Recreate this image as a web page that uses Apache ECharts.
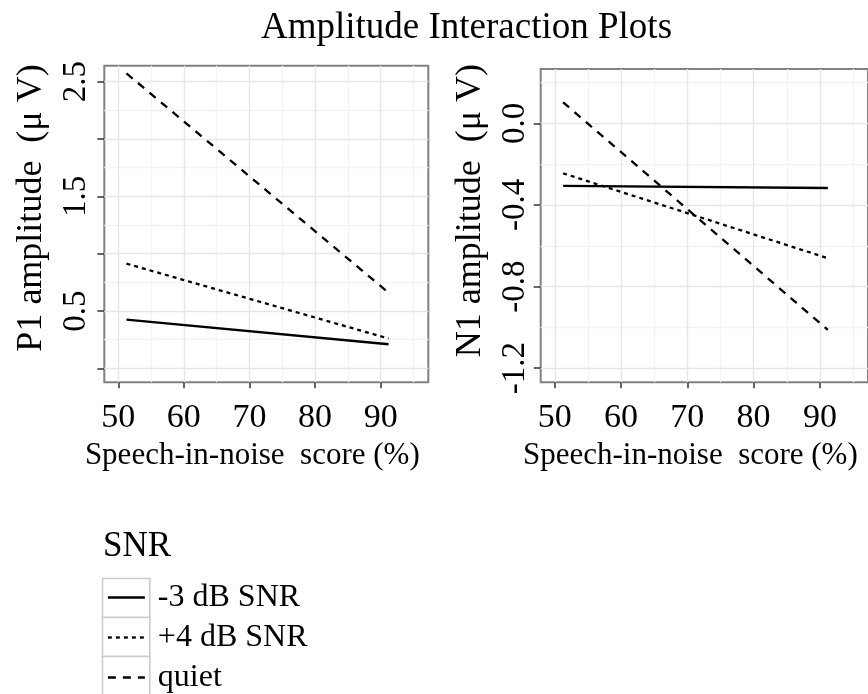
<!DOCTYPE html>
<html>
<head>
<meta charset="utf-8">
<script src="https://cdn.jsdelivr.net/npm/echarts@6/dist/echarts.min.js"></script>
<style>html,body{margin:0;padding:0;background:#fff}#c{width:868px;height:694px}</style>
</head>
<body>
<div id="c"></div>
<script>
// ---- data ----
const snrLevels = ['-3 dB SNR', '+4 dB SNR', 'quiet'];
const scoreRange = [51.25, 91.2];            // speech-in-noise score (%) at line ends
const p1Minus3 = [0.425, 0.21];
const p1Plus4 = [0.913, 0.26];
const p1Quiet = [2.573, 0.66];
const n1Minus3 = [-0.307, -0.317];
const n1Plus4 = [-0.245, -0.661];
const n1Quiet = [0.103, -1.012];
const xTicks = [50, 60, 70, 80, 90];
const xMinor = [55, 65, 75, 85, 95];
const p1Ticks = [0, 0.5, 1.0, 1.5, 2.0, 2.5];
const p1Labels = [0.5, 1.5, 2.5];
const p1Minor = [0.25, 0.75, 1.25, 1.75, 2.25];
const n1Ticks = [-1.2, -0.8, -0.4, 0.0];
const n1Minor = [-1.0, -0.6, -0.2, 0.2];

// ---- styles ----
const FONT = 'Liberation Serif';
const dashes = {'-3 dB SNR': 'solid', '+4 dB SNR': [4, 4], 'quiet': [8, 7]};
const majorColor = '#e6e6e6', minorColor = '#f3f3f3';

function pairs(ys) { return ys.map((y, i) => [scoreRange[i], y]); }

function gridLines(xs, ys, color) {
  const out = [];
  xs.forEach(v => out.push({xAxis: v, lineStyle: {color: color, width: 1.4, type: 'solid'}}));
  ys.forEach(v => out.push({yAxis: v, lineStyle: {color: color, width: 1.4, type: 'solid'}}));
  return out;
}

function makeSeries(panel, values, withGrid) {
  return snrLevels.map((name, k) => {
    const s = {
      type: 'line', name: name,
      xAxisIndex: panel, yAxisIndex: panel,
      data: pairs(values[k]),
      symbol: 'none', z: 3,
      lineStyle: {color: '#000', width: 2.3, type: dashes[name]},
      itemStyle: {color: '#000'}
    };
    if (k === 0) {
      s.markLine = {
        silent: true, symbol: ['none', 'none'], z: 1, animation: false,
        label: {show: false},
        data: gridLines(xMinor, withGrid.minor, minorColor).concat(gridLines(xTicks, withGrid.major, majorColor))
      };
    }
    return s;
  });
}

function xAxisCfg(grid) {
  return {
    type: 'value', gridIndex: grid, min: 47.87, max: 97.26,
    axisLine: {show: false, onZero: false},
    splitLine: {show: false},
    axisTick: {show: true, length: 6, customValues: xTicks, lineStyle: {color: '#333', width: 1.5}},
    axisLabel: {customValues: xTicks, margin: 19, fontFamily: FONT, fontSize: 34, color: '#000'},
    name: 'Speech-in-noise  score (%)', nameLocation: 'middle', nameGap: 58,
    nameTextStyle: {fontFamily: FONT, fontSize: 31, color: '#000', padding: [0, 28, 0, 0]}
  };
}

const option = {
  animation: false,
  backgroundColor: '#fff',
  title: [
    {text: 'Amplitude Interaction Plots', left: 256, top: 5,
     textStyle: {fontFamily: FONT, fontSize: 37, fontWeight: 'normal', color: '#000'}},
    {text: 'SNR', left: 98, top: 524,
     textStyle: {fontFamily: FONT, fontSize: 35, fontWeight: 'normal', color: '#000'}}
  ],
  grid: [
    {left: 104.3, top: 65.7, width: 324, height: 316.6, show: true,
     borderColor: '#808080', borderWidth: 2, backgroundColor: '#fff'},
    {left: 540.7, top: 69, width: 329.3, height: 313.3, show: true,
     borderColor: '#808080', borderWidth: 2, backgroundColor: '#fff'}
  ],
  xAxis: [xAxisCfg(0), xAxisCfg(1)],
  yAxis: [
    {type: 'value', gridIndex: 0, min: -0.122, max: 2.64,
     axisLine: {show: false, onZero: false}, splitLine: {show: false},
     axisTick: {show: true, length: 7, customValues: p1Ticks, lineStyle: {color: '#333', width: 1.5}},
     axisLabel: {customValues: p1Labels, rotate: 90, margin: 11, fontFamily: FONT, fontSize: 33, color: '#000',
                 formatter: v => v.toFixed(1)},
     name: 'P1 amplitude  (μ V)', nameLocation: 'middle', nameGap: 55,
     nameTextStyle: {fontFamily: FONT, fontSize: 36, color: '#000', padding: [0, 0, 0, 32]}},
    {type: 'value', gridIndex: 1, min: -1.269, max: 0.266,
     axisLine: {show: false, onZero: false}, splitLine: {show: false},
     axisTick: {show: true, length: 7, customValues: n1Ticks, lineStyle: {color: '#333', width: 1.5}},
     axisLabel: {customValues: n1Ticks, rotate: 90, margin: 9, fontFamily: FONT, fontSize: 33, color: '#000',
                 formatter: v => v.toFixed(1)},
     name: 'N1 amplitude  (μ V)', nameLocation: 'middle', nameGap: 52,
     nameTextStyle: {fontFamily: FONT, fontSize: 36, color: '#000', padding: [0, 0, 0, 30]}}
  ],
  legend: {
    orient: 'vertical', left: 106.7, top: 581.5, padding: 0,
    itemWidth: 37, itemHeight: 31, itemGap: 8, selectedMode: false,
    data: snrLevels,
    itemStyle: {opacity: 0},
    lineStyle: {width: 2.3},
    textStyle: {fontFamily: FONT, fontSize: 32, color: '#000', padding: [0, 0, 0, 8]}
  },
  graphic: snrLevels.map((n, i) => ({
    type: 'rect', z: 0, left: 101.7, top: 577.7 + i * 39,
    shape: {width: 47.3, height: 39},
    style: {fill: '#fff', stroke: '#cccccc', lineWidth: 1.6}
  })),
  series: [].concat(
    makeSeries(0, [p1Minus3, p1Plus4, p1Quiet], {major: p1Ticks, minor: p1Minor}),
    makeSeries(1, [n1Minus3, n1Plus4, n1Quiet], {major: n1Ticks, minor: n1Minor})
  )
};

echarts.init(document.getElementById('c'), null, {renderer: 'canvas'}).setOption(option);
</script>
</body>
</html>
